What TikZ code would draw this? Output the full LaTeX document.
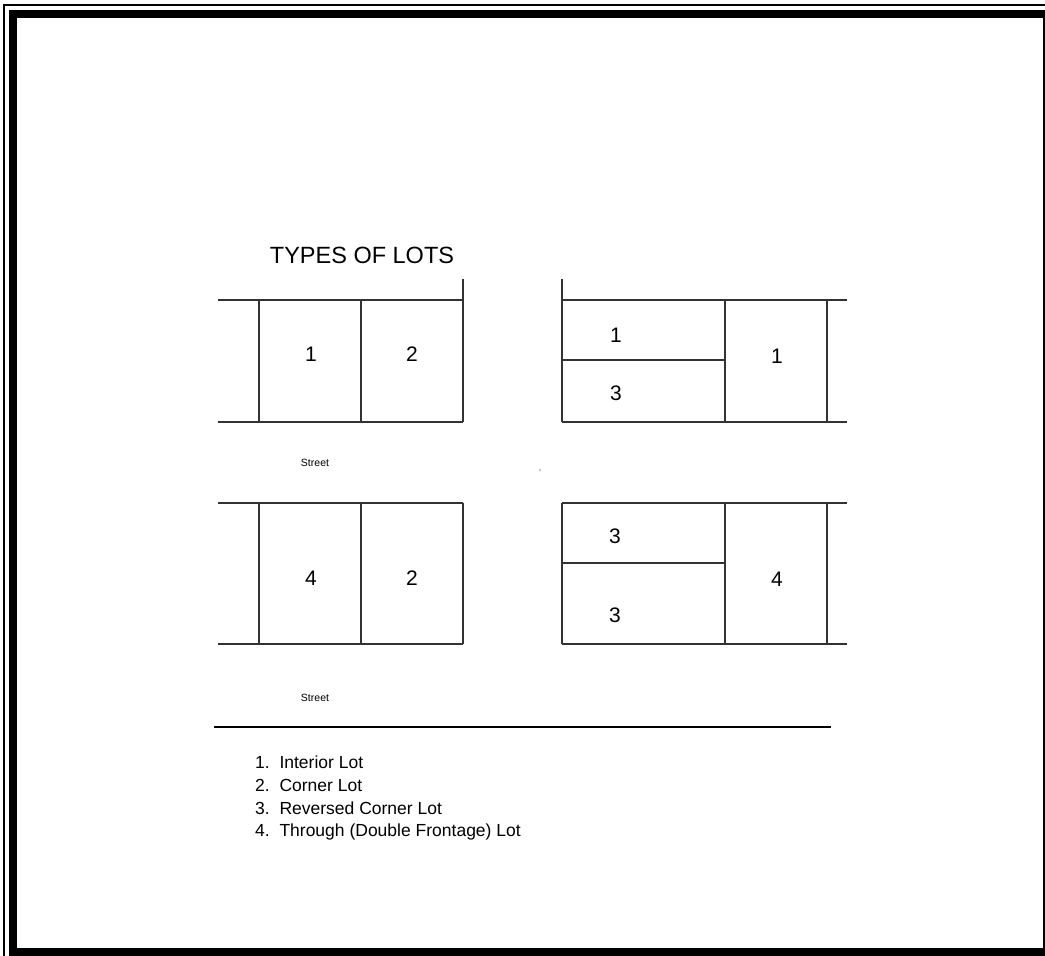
\documentclass[tikz,border=0pt]{standalone}
\usepackage{fontspec}
\setmainfont{Liberation Sans}
\usepackage{tikz}
\usetikzlibrary{positioning}

\begin{document}
\begin{tikzpicture}[x=1pt, y=-1pt,
  lotline/.style={draw=black!80, line width=1.2pt},
  lotnum/.style={font=\fontsize{21}{25}\selectfont, inner sep=0pt},
  streetlbl/.style={font=\fontsize{10.5}{12}\selectfont, inner sep=0pt},
  legendtxt/.style={font=\fontsize{17.5}{21}\selectfont, anchor=west, inner sep=0pt}]
  \useasboundingbox (0,0) rectangle (1045,956);
  \clip (0,0) rectangle (1045,956);

  % Page frame
  \draw[line width=2pt] (4,5) rectangle (1070,980);
  \draw[line width=8pt] (13,13.5) rectangle (1047,952);

  % Title
  \node[font=\fontsize{23.5}{28}\selectfont, inner sep=0pt] (title) at (362,255) {TYPES OF LOTS};

  % Upper left block
  \draw[lotline] (218,300) -- (463,300);
  \draw[lotline] (218,422) -- (463,422);
  \draw[lotline] (463,279) -- (463,422);
  \draw[lotline] (259,300) -- (259,422);
  \draw[lotline] (361,300) -- (361,422);
  \node[lotnum] (ul1) at (311,354) {1};
  \node[lotnum] (ul2) at (412,354) {2};

  % Upper right block
  \draw[lotline] (562,300) -- (847,300);
  \draw[lotline] (562,422) -- (847,422);
  \draw[lotline] (562,279) -- (562,422);
  \draw[lotline] (562,360) -- (725,360);
  \draw[lotline] (725,300) -- (725,422);
  \draw[lotline] (827,300) -- (827,422);
  \node[lotnum] (ur1) at (616,335) {1};
  \node[lotnum] (ur3) at (616,393) {3};
  \node[lotnum] (ur1b) at (777,356) {1};

  % Middle street
  \node[streetlbl] (street1) at (315,463) {Street};
  \fill (540,470) circle (0.7);

  % Lower left block
  \draw[lotline] (218,503) -- (463,503);
  \draw[lotline] (218,644) -- (463,644);
  \draw[lotline] (463,503) -- (463,644);
  \draw[lotline] (259,503) -- (259,644);
  \draw[lotline] (361,503) -- (361,644);
  \node[lotnum] (ll4) at (311,578) {4};
  \node[lotnum] (ll2) at (412,578) {2};

  % Lower right block
  \draw[lotline] (562,503) -- (847,503);
  \draw[lotline] (562,644) -- (847,644);
  \draw[lotline] (562,503) -- (562,644);
  \draw[lotline] (562,563) -- (725,563);
  \draw[lotline] (725,503) -- (725,644);
  \draw[lotline] (827,503) -- (827,644);
  \node[lotnum] (lr3) at (615,536) {3};
  \node[lotnum] (lr3b) at (615,615) {3};
  \node[lotnum] (lr4) at (777,579) {4};

  % Lower street
  \node[streetlbl] (street2) at (315,698) {Street};
  \draw[line width=1.5pt] (214,727) -- (831,727);

  % Legend
  \node[legendtxt] (leg1) at (255,762) {1.\ \ Interior Lot};
  \node[legendtxt] (leg2) at (255,785) {2.\ \ Corner Lot};
  \node[legendtxt] (leg3) at (255,808) {3.\ \ Reversed Corner Lot};
  \node[legendtxt] (leg4) at (255,832) {4.\ \ Through (Double Frontage) Lot};
\end{tikzpicture}
\end{document}
